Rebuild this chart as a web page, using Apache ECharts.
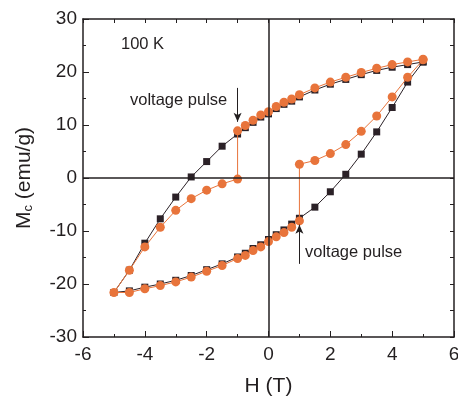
<!DOCTYPE html>
<html>
<head>
<meta charset="utf-8">
<script src="https://cdn.jsdelivr.net/npm/echarts@6/dist/echarts.min.js"></script>
<style>
  html, body { margin: 0; padding: 0; background: #fff; }
  #main { width: 458px; height: 401px; }
</style>
</head>
<body>
<div id="main"></div>
<script>
// field sweep, 5 T -> -5 T
var hDown = [5, 4.5, 4, 3.5, 3, 2.5, 2, 1.5, 1, 0.75, 0.5, 0.25, 0, -0.25, -0.5, -0.75, -1, -1.5, -2, -2.5, -3, -3.5, -4, -4.5, -5];
// field sweep, -5 T -> 5 T
var hUp = [-5, -4.5, -4, -3.5, -3, -2.5, -2, -1.5, -1, -0.75, -0.5, -0.25, 0, 0.25, 0.5, 0.75, 1, 1.5, 2, 2.5, 3, 3.5, 4, 4.5, 5];

// black squares, no pulse
var blackDown = [21.9, 21.4, 20.9, 20.3, 19.5, 18.6, 17.7, 16.6, 15.3, 14.5, 13.9, 13.1, 12.1, 11.5, 10.5, 9.5, 8.3, 6.0, 3.1, 0.2, -3.6, -7.7, -12.3, -17.4, -21.6];
var blackUp = [-21.6, -21.3, -20.6, -20.0, -19.3, -18.4, -17.3, -16.2, -14.9, -14.2, -13.3, -12.6, -11.6, -10.7, -9.8, -8.7, -7.6, -5.5, -2.6, 0.7, 4.5, 8.7, 13.3, 18.1, 21.9];

// orange circles, voltage pulse at -1 T and at 1 T (the field value repeats there)
var hOrangeDown = [5, 4.5, 4, 3.5, 3, 2.5, 2, 1.5, 1, 0.75, 0.5, 0.25, 0, -0.25, -0.5, -0.75, -1, -1, -1.5, -2, -2.5, -3, -3.5, -4, -4.5, -5];
var orangeDown = [22.4, 21.9, 21.4, 20.7, 19.9, 19.0, 18.1, 17.0, 15.7, 14.9, 14.3, 13.5, 12.5, 11.9, 10.9, 9.9, 8.9, -0.2, -1.1, -2.3, -3.9, -6.1, -9.3, -13.0, -17.4, -21.6];
var hOrangeUp = [-4.5, -4, -3.5, -3, -2.5, -2, -1.5, -1, -0.75, -0.5, -0.25, 0, 0.25, 0.5, 0.75, 1, 1, 1.5, 2, 2.5, 3, 3.5, 4, 4.5, 5];
var orangeUp = [-21.6, -20.9, -20.3, -19.6, -18.7, -17.6, -16.5, -15.2, -14.6, -13.7, -13.0, -12.0, -11.1, -10.3, -9.3, -8.1, 2.6, 3.3, 4.6, 6.3, 8.8, 11.7, 15.3, 19.0, 22.3];

var xTicks = [-6, -4, -2, 0, 2, 4, 6];
var yTicks = [-30, -20, -10, 0, 10, 20, 30];

function pairs(xs, ys) {
    var out = [];
    for (var i = 0; i < xs.length; i++) out.push([xs[i], ys[i]]);
    return out;
}

var blackData = pairs(hDown, blackDown).concat(pairs(hUp.slice(1), blackUp.slice(1)));
var orangeData = pairs(hOrangeDown, orangeDown).concat(pairs(hOrangeUp, orangeUp));

var ink = '#231f20';
var font = 'Liberation Sans, Arial, Helvetica, sans-serif';

var chart = echarts.init(document.getElementById('main'));

var option = {
    backgroundColor: '#fff',
    animation: false,
    textStyle: {fontFamily: font},
    grid: {left: 83, right: 4, top: 19, bottom: 64, outerBoundsMode: 'none'},
    xAxis: [{
        type: 'value',
        min: xTicks[0],
        max: xTicks[xTicks.length - 1],
        interval: 2,
        position: 'bottom',
        axisLine: {show: true, onZero: false, lineStyle: {color: ink, width: 1.5}},
        axisTick: {show: true, inside: true, length: 6, lineStyle: {color: ink, width: 1}},
        minorTick: {show: true, splitNumber: 2, length: 3, lineStyle: {color: ink, width: 1}},
        splitLine: {show: false},
        axisLabel: {fontSize: 19, color: ink, margin: 8, fontFamily: font},
        name: 'H (T)',
        nameLocation: 'middle',
        nameGap: 39,
        nameTextStyle: {fontSize: 21, color: ink, fontFamily: font}
    }, {
        type: 'value',
        min: -6,
        max: 6,
        interval: 1,
        position: 'top',
        axisLine: {show: true, onZero: false, lineStyle: {color: ink, width: 1.5}},
        axisTick: {show: true, inside: true, length: 4, lineStyle: {color: ink, width: 1}},
        axisLabel: {show: false},
        splitLine: {show: false}
    }],
    yAxis: [{
        type: 'value',
        min: yTicks[0],
        max: yTicks[yTicks.length - 1],
        interval: 10,
        position: 'left',
        axisLine: {show: true, onZero: false, lineStyle: {color: ink, width: 1.5}},
        axisTick: {show: true, inside: true, length: 6, lineStyle: {color: ink, width: 1}},
        minorTick: {show: true, splitNumber: 2, length: 3, lineStyle: {color: ink, width: 1}},
        splitLine: {show: false},
        axisLabel: {fontSize: 19, color: ink, margin: 6, fontFamily: font},
        name: '{m|M}{s|c}{m| (emu/g)}',
        nameLocation: 'middle',
        nameGap: 48,
        nameTextStyle: {
            color: ink,
            rich: {
                m: {fontSize: 21, color: ink, fontFamily: font, verticalAlign: 'bottom', lineHeight: 26},
                s: {fontSize: 13, color: ink, fontFamily: font, verticalAlign: 'bottom', lineHeight: 11}
            }
        }
    }, {
        type: 'value',
        min: -30,
        max: 30,
        interval: 5,
        position: 'right',
        axisLine: {show: true, onZero: false, lineStyle: {color: ink, width: 1.5}},
        axisTick: {show: true, inside: true, length: 4, lineStyle: {color: ink, width: 1}},
        axisLabel: {show: false},
        splitLine: {show: false}
    }],
    graphic: [{
        type: 'text',
        left: 121,
        top: 36,
        style: {text: '100 K', fontSize: 16.5, fill: ink, fontFamily: font}
    }, {
        type: 'text',
        left: 130,
        top: 92,
        style: {text: 'voltage pulse', fontSize: 16.5, fill: ink, fontFamily: font}
    }, {
        type: 'text',
        left: 305,
        top: 244,
        style: {text: 'voltage pulse', fontSize: 16.5, fill: ink, fontFamily: font}
    }],
    series: [{
        name: 'no pulse',
        type: 'line',
        data: blackData,
        symbol: 'rect',
        symbolSize: 7,
        itemStyle: {color: '#2b2127'},
        lineStyle: {color: '#2b2127', width: 1},
        z: 3,
        markLine: {
            silent: true,
            symbol: 'none',
            label: {show: false},
            lineStyle: {color: ink, width: 1.5, type: 'solid'},
            data: [{xAxis: 0}, {yAxis: 0}]
        }
    }, {
        name: 'pulse',
        type: 'line',
        data: orangeData,
        symbol: 'circle',
        symbolSize: 9,
        itemStyle: {color: '#e8743b'},
        lineStyle: {color: '#e8743b', width: 1},
        z: 4,
        markLine: {
            silent: true,
            symbol: ['none', 'arrow'],
            symbolSize: [6, 9],
            label: {show: false},
            lineStyle: {color: ink, width: 1, type: 'solid'},
            data: [
                [{coord: [-1, 17]}, {coord: [-1, 10.6]}],
                [{coord: [1, -16.2]}, {coord: [1, -8.8]}]
            ]
        }
    }]
};

chart.setOption(option);

window.onresize = function () {
    chart.resize();
};
</script>
</body>
</html>
